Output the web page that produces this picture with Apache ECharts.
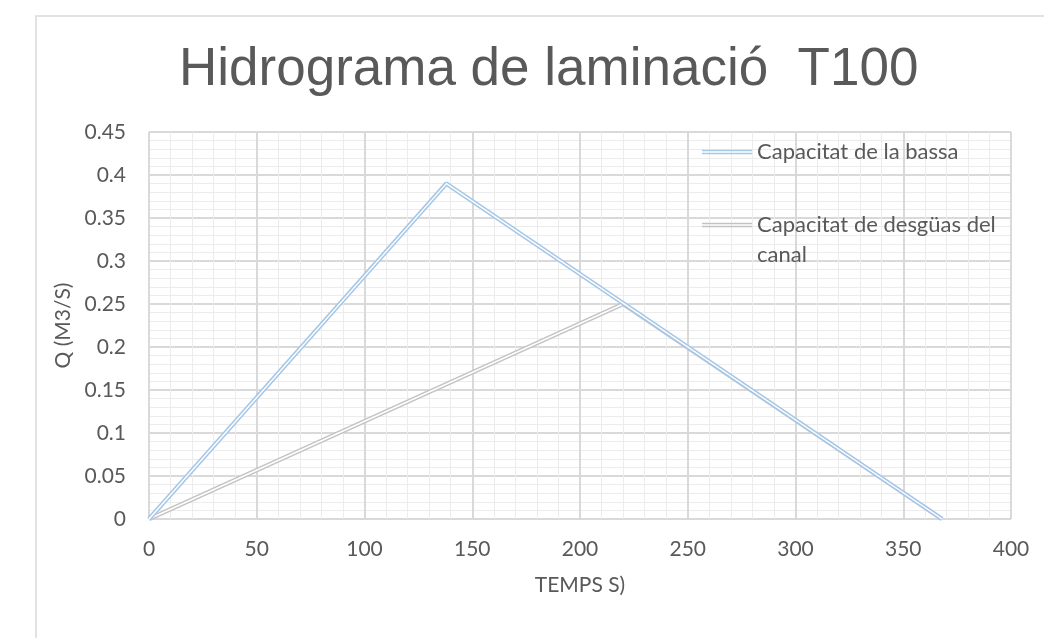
<!DOCTYPE html>
<html>
<head>
<meta charset="utf-8">
<script src="https://cdn.jsdelivr.net/npm/echarts@6/dist/echarts.min.js"></script>
<style>html,body{margin:0;padding:0;background:#fff;}#c{width:1044px;height:638px;}</style>
</head>
<body>
<div id="c"></div>
<script>
const titleText = 'Hidrograma de laminació  T100';
const xName = 'TEMPS S)';
const yName = 'Q (M3/S)';
const seriesNames = ['Capacitat de la bassa', 'Capacitat de desgüas del canal'];
const bassaX = [0, 138, 368];
const bassaY = [0, 0.39, 0];
const canalX = [0, 220, 368];
const canalY = [0, 0.25, 0];

const pairs = (xs, ys) => xs.map((x, i) => [x, ys[i]]);
const font = 'Lato, "Open Sans", sans-serif';
const txt = '#595959';
const dbl = 'path://M0,0H50V1.6H0Z M0,2.9H50V4.5H0Z';

const chart = echarts.init(document.getElementById('c'));
chart.setOption({
  backgroundColor: '#fff',
  animation: false,
  title: {
    text: titleText, left: 179, top: 44, padding: 0,
    textStyle: { fontFamily: '"Liberation Sans", Arial, sans-serif', fontSize: 53, fontWeight: 'normal', color: txt }
  },
  graphic: [{
    type: 'rect', z: -1, silent: true,
    shape: { x: 36, y: 16, width: 1100, height: 700 },
    style: { fill: 'none', stroke: '#d9d9d9', lineWidth: 1.5 }
  }],
  legend: {
    orient: 'vertical', left: 702, top: 137, padding: 0, itemGap: 13,
    itemWidth: 50, itemHeight: 4.5,
    textStyle: { fontFamily: font, fontSize: 22, color: txt, lineHeight: 30 },
    formatter: function (n) { return n === seriesNames[1] ? '\nCapacitat de desgüas del\ncanal' : n; },
    data: [{ name: seriesNames[0], icon: dbl }, { name: seriesNames[1], icon: dbl }]
  },
  grid: { left: 149, right: 33, top: 132, bottom: 119, containLabel: false },
  xAxis: {
    type: 'value', min: 0, max: 400, interval: 50,
    name: xName, nameLocation: 'middle', nameGap: 56,
    nameTextStyle: { fontFamily: font, fontSize: 21, color: txt },
    axisLine: { show: false }, axisTick: { show: false },
    axisLabel: { fontFamily: font, fontSize: 21, color: txt, margin: 20 },
    splitLine: { show: true, lineStyle: { color: '#d9d9d9', width: 2 } },
    minorTick: { show: false, splitNumber: 5 },
    minorSplitLine: { show: true, lineStyle: { color: '#ececec', width: 1 } }
  },
  yAxis: {
    type: 'value', min: 0, max: 0.45, interval: 0.05,
    name: yName, nameLocation: 'middle', nameGap: 74, nameRotate: 90,
    nameTextStyle: { fontFamily: font, fontSize: 21, color: txt },
    axisLine: { show: false }, axisTick: { show: false },
    axisLabel: { fontFamily: font, fontSize: 21, color: txt, margin: 23 },
    splitLine: { show: true, lineStyle: { color: '#d9d9d9', width: 2 } },
    minorTick: { show: false, splitNumber: 5 },
    minorSplitLine: { show: true, lineStyle: { color: '#ececec', width: 1 } }
  },
  series: [
    { name: seriesNames[1], type: 'line', data: pairs(canalX, canalY), showSymbol: false, color: '#c3c3c3',
      lineStyle: { color: '#c3c3c3', width: 4.5 }, z: 2 },
    { name: 'canal-inner', type: 'line', data: pairs(canalX, canalY), showSymbol: false, color: '#fff',
      lineStyle: { color: '#ffffff', width: 1.4 }, z: 3 },
    { name: seriesNames[0], type: 'line', data: pairs(bassaX, bassaY), showSymbol: false, color: '#a7c7e7',
      lineStyle: { color: '#a7c7e7', width: 4.5 }, z: 4 },
    { name: 'bassa-inner', type: 'line', data: pairs(bassaX, bassaY), showSymbol: false, color: '#fff',
      lineStyle: { color: '#ffffff', width: 1.4 }, z: 5 }
  ]
});
</script>
</body>
</html>
